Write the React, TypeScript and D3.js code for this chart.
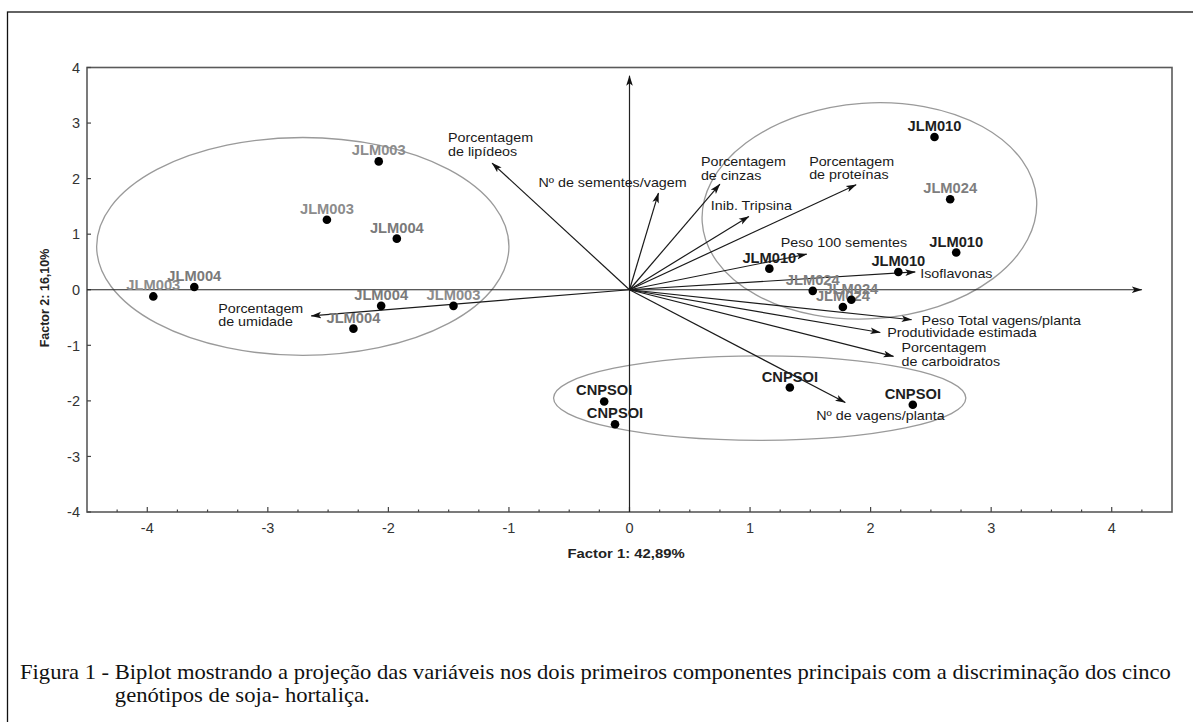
import React, { useEffect, useRef } from 'react';
import * as d3 from 'd3';

// genotype scores (factor 1, factor 2)
const genotypes = [
  'JLM003', 'JLM003', 'JLM004', 'JLM003', 'JLM004', 'JLM004', 'JLM004', 'JLM003',
  'JLM010', 'JLM024', 'JLM010', 'JLM010', 'JLM010', 'JLM024', 'JLM024', 'JLM024',
  'CNPSOI', 'CNPSOI', 'CNPSOI', 'CNPSOI',
];
const scoreF1 = [-2.08, -2.51, -1.93, -3.95, -3.61, -2.06, -2.29, -1.46, 2.53, 2.66, 2.71, 2.23, 1.16, 1.52, 1.84, 1.77, -0.21, -0.12, 1.33, 2.35];
const scoreF2 = [2.31, 1.26, 0.92, -0.12, 0.05, -0.29, -0.70, -0.29, 2.75, 1.63, 0.67, 0.32, 0.38, -0.02, -0.18, -0.31, -2.01, -2.42, -1.76, -2.07];

// variable loadings
const variables = [
  'Porcentagem\nde lipídeos',
  'Nº de sementes/vagem',
  'Porcentagem\nde cinzas',
  'Inib. Tripsina',
  'Porcentagem\nde proteínas',
  'Peso 100 sementes',
  'Isoflavonas',
  'Peso Total vagens/planta',
  'Produtividade estimada',
  'Porcentagem\nde carboidratos',
  'Nº de vagens/planta',
  'Porcentagem\nde umidade',
];
const loadF1 = [-1.14, 0.24, 0.75, 0.99, 1.88, 1.47, 2.37, 2.34, 2.08, 2.19, 1.79, -2.64];
const loadF2 = [2.28, 1.74, 1.90, 1.32, 1.89, 0.64, 0.32, -0.54, -0.77, -1.20, -2.03, -0.47];

// group ellipses
const ellipseCx = [-2.71, 1.99, 1.08];
const ellipseCy = [0.78, 1.42, -1.95];
const ellipseRx = [1.71, 1.39, 1.71];
const ellipseRy = [1.96, 1.94, 0.76];

const xTicks = [-4, -3, -2, -1, 0, 1, 2, 3, 4];
const yTicks = [-4, -3, -2, -1, 0, 1, 2, 3, 4];

const xTitle = 'Factor 1: 42,89%';
const yTitle = 'Factor 2: 16,10%';
const captionHead = 'Figura 1 - ';
const captionLine1 = 'Biplot mostrando a projeção das variáveis nos dois primeiros componentes principais com a discriminação dos cinco';
const captionLine2 = 'genótipos de soja- hortaliça.';

// label placement of each vector text, px from the arrow tip
const varLabelOffset = [
  [-44, -21], [-120, -6], [-19, -18], [-38, -6], [-47, -19], [-26, -7],
  [5, 6], [10, 5], [7, 4], [8, -4], [-29, 17], [-93, -3],
];
const ellipseTilt = [0, -4, 0];
const labelColor = { JLM003: '#8c8c8c', JLM004: '#7a7a7a', JLM024: '#7e7e7e', JLM010: '#1e1e1e', CNPSOI: '#1e1e1e' };

const SANS = 'Arial, "Liberation Sans", sans-serif';
const SERIF = '"Times New Roman", "Liberation Serif", serif';

export default function App() {
  const ref = useRef(null);

  useEffect(() => {
    const svg = d3.select(ref.current);
    svg.selectAll('*').remove();

    const x = d3.scaleLinear().domain([-4.5, 4.5]).range([87, 1172]);
    const y = d3.scaleLinear().domain([-4, 4]).range([512, 67.5]);

    const defs = svg.append('defs');
    defs.append('marker')
      .attr('id', 'arr')
      .attr('markerUnits', 'userSpaceOnUse')
      .attr('viewBox', '0 -4 11 8')
      .attr('refX', 10).attr('refY', 0)
      .attr('markerWidth', 11).attr('markerHeight', 8)
      .attr('orient', 'auto')
      .append('path')
      .attr('d', 'M0,-3.3L10.5,0L0,3.3L2.5,0Z')
      .attr('fill', '#111');

    // outer figure frame
    svg.append('rect')
      .attr('x', 7.5).attr('y', 12)
      .attr('width', 1210).attr('height', 730)
      .attr('fill', 'none').attr('stroke', '#111').attr('stroke-width', 1.3);

    // plot frame
    svg.append('rect')
      .attr('x', x(-4.5)).attr('y', y(4))
      .attr('width', x(4.5) - x(-4.5)).attr('height', y(-4) - y(4))
      .attr('fill', 'none').attr('stroke', '#5a5a5a').attr('stroke-width', 1.6);

    // x ticks, minor every 0.25
    const minor = d3.range(-4.25, 4.5, 0.25).filter(v => Math.abs(v - Math.round(v)) > 0.01);
    svg.append('g').selectAll('line').data(minor).enter().append('line')
      .attr('x1', d => x(d)).attr('x2', d => x(d))
      .attr('y1', y(-4)).attr('y2', y(-4) - 2.5)
      .attr('stroke', '#444').attr('stroke-width', 1.2);
    svg.append('g').selectAll('line').data(xTicks).enter().append('line')
      .attr('x1', d => x(d)).attr('x2', d => x(d))
      .attr('y1', y(-4)).attr('y2', y(-4) - 5)
      .attr('stroke', '#444').attr('stroke-width', 1.2);
    svg.append('g').selectAll('text').data(xTicks).enter().append('text')
      .attr('x', d => x(d)).attr('y', 533)
      .attr('text-anchor', 'middle')
      .attr('font-family', SANS).attr('font-size', 14.5).attr('fill', '#333')
      .text(d => d);

    // y ticks
    svg.append('g').selectAll('line').data(yTicks).enter().append('line')
      .attr('x1', x(-4.5)).attr('x2', x(-4.5) + 4)
      .attr('y1', d => y(d)).attr('y2', d => y(d))
      .attr('stroke', '#444').attr('stroke-width', 1.2);
    svg.append('g').selectAll('text').data(yTicks).enter().append('text')
      .attr('x', 80).attr('y', d => y(d)).attr('dy', '0.36em')
      .attr('text-anchor', 'end')
      .attr('font-family', SANS).attr('font-size', 14.5).attr('fill', '#333')
      .text(d => d);

    // axis titles
    svg.append('text')
      .attr('transform', `translate(626,558) scale(1.1,1)`)
      .attr('text-anchor', 'middle')
      .attr('font-family', SANS).attr('font-size', 13.5).attr('font-weight', 'bold').attr('fill', '#222')
      .text(xTitle);
    svg.append('text')
      .attr('transform', 'translate(49,298) rotate(-90)')
      .attr('text-anchor', 'middle')
      .attr('font-family', SANS).attr('font-size', 12.5).attr('font-weight', 'bold').attr('fill', '#222')
      .text(yTitle);

    // ellipses
    svg.append('g').selectAll('ellipse').data(ellipseCx).enter().append('ellipse')
      .attr('cx', (d) => x(d)).attr('cy', (d, i) => y(ellipseCy[i]))
      .attr('rx', (d, i) => x(d + ellipseRx[i]) - x(d))
      .attr('ry', (d, i) => y(ellipseCy[i] - ellipseRy[i]) - y(ellipseCy[i]))
      .attr('transform', (d, i) => `rotate(${ellipseTilt[i]},${x(d)},${y(ellipseCy[i])})`)
      .attr('fill', 'none').attr('stroke', '#9a9a9a').attr('stroke-width', 1.3);

    // zero axes
    svg.append('line')
      .attr('x1', x(-4.5)).attr('x2', x(4.25))
      .attr('y1', y(0)).attr('y2', y(0))
      .attr('stroke', '#222').attr('stroke-width', 1.2).attr('marker-end', 'url(#arr)');
    svg.append('line')
      .attr('x1', x(0)).attr('x2', x(0))
      .attr('y1', y(-4)).attr('y2', y(3.85))
      .attr('stroke', '#222').attr('stroke-width', 1.2).attr('marker-end', 'url(#arr)');

    // variable vectors
    svg.append('g').selectAll('line').data(loadF1).enter().append('line')
      .attr('x1', x(0)).attr('y1', y(0))
      .attr('x2', d => x(d)).attr('y2', (d, i) => y(loadF2[i]))
      .attr('stroke', '#1a1a1a').attr('stroke-width', 1.2).attr('marker-end', 'url(#arr)');

    const vl = svg.append('g').attr('font-family', SANS).attr('font-size', 13).attr('fill', '#1a1a1a');
    variables.forEach((name, i) => {
      const tx = x(loadF1[i]) + varLabelOffset[i][0];
      const ty = y(loadF2[i]) + varLabelOffset[i][1];
      name.split('\n').forEach((ln, k) => {
        vl.append('text')
          .attr('transform', `translate(${tx},${ty + k * 13.5}) scale(1.1,1)`)
          .text(ln);
      });
    });

    // genotype labels then points
    svg.append('g').selectAll('text').data(genotypes).enter().append('text')
      .attr('transform', (d, i) => `translate(${x(scoreF1[i])},${y(scoreF2[i]) - 6}) scale(1.05,1)`)
      .attr('text-anchor', 'middle')
      .attr('font-family', SANS).attr('font-size', 14).attr('font-weight', 'bold')
      .attr('fill', d => labelColor[d])
      .text(d => d);
    svg.append('g').selectAll('circle').data(scoreF1).enter().append('circle')
      .attr('cx', d => x(d)).attr('cy', (d, i) => y(scoreF2[i]))
      .attr('r', 4.3).attr('fill', '#000');

    // caption
    const cap = svg.append('g').attr('font-family', SERIF).attr('font-size', 20).attr('fill', '#111');
    const t1 = cap.append('text').attr('x', 0).attr('y', 0).text(captionHead + captionLine1);
    const head = cap.append('text').attr('x', 0).attr('y', 0).attr('opacity', 0).text(captionHead.trim());
    const full = t1.node().getComputedTextLength();
    const sx = 1152 / full;
    const headW = (head.node().getComputedTextLength() + 5) * sx;
    head.remove();
    t1.attr('transform', `translate(20,679) scale(${sx},1)`);
    cap.append('text')
      .attr('transform', `translate(${20 + headW},702) scale(${sx},1)`)
      .text(captionLine2);
  }, []);

  return (
    <svg ref={ref} width={1193} height={722}
      style={{ position: 'fixed', left: 0, top: 0, background: '#fff' }} />
  );
}
